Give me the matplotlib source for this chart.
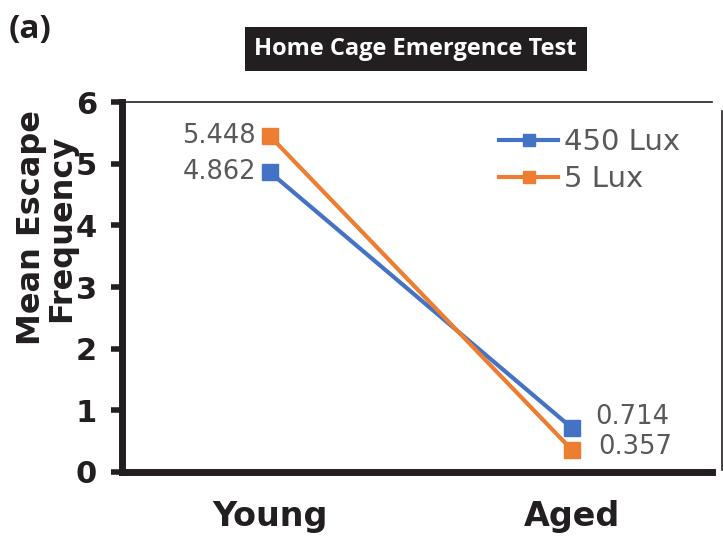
import matplotlib
matplotlib.use("Agg")
import matplotlib.pyplot as plt
from matplotlib.lines import Line2D

groups = ["Young", "Aged"]
series_names = ["450 Lux", "5 Lux"]
lux450 = [4.862, 0.714]
lux5 = [5.448, 0.357]
colors = ["#4472C4", "#ED7D31"]
yticks = [0, 1, 2, 3, 4, 5, 6]

fig = plt.figure(figsize=(7.23, 5.40), dpi=100)
ax = fig.add_axes([0.1687, 0.126, 0.816, 0.685])

xs = list(range(len(groups)))
ax.plot(xs, lux450, color=colors[0], lw=3, marker="s", ms=12, zorder=3, label=series_names[0])
ax.plot(xs, lux5, color=colors[1], lw=3, marker="s", ms=12, zorder=3, label=series_names[1])

ax.set_xlim(-0.49, 1.4635)
ax.set_ylim(0, 6)
ax.set_yticks(yticks)
ax.set_xticks(xs)
ax.set_xticklabels(groups, fontsize=24, fontweight="bold", color="#231f20")
ax.tick_params(axis="x", length=0, pad=20)
ax.tick_params(axis="y", length=8, width=4, color="#231f20", pad=10,
               labelsize=22, labelcolor="#231f20")
for t in ax.get_yticklabels():
    t.set_fontweight("bold")

for side in ("left", "bottom"):
    ax.spines[side].set_linewidth(5)
    ax.spines[side].set_color("#231f20")
ax.spines["top"].set_linewidth(1.2)
ax.spines["top"].set_color("#231f20")
ax.spines["right"].set_visible(False)

# y label sits over the tick labels, as in the original figure
fig.text(0.064, 0.578, "Mean Escape\nFrequency", fontsize=23, fontweight="bold",
         color="#231f20", rotation=90, ha="center", va="center", linespacing=0.95)

lab = dict(fontsize=18.5, color="#595959")
ax.annotate(f"{lux5[0]:.3f}", (xs[0], lux5[0]), xytext=(-10, 0), textcoords="offset points",
            ha="right", va="center", **lab)
ax.annotate(f"{lux450[0]:.3f}", (xs[0], lux450[0]), xytext=(-10, 0), textcoords="offset points",
            ha="right", va="center", **lab)
ax.annotate(f"{lux450[1]:.3f}", (xs[1], lux450[1]), xytext=(17, 8), textcoords="offset points",
            ha="left", va="center", **lab)
ax.annotate(f"{lux5[1]:.3f}", (xs[1], lux5[1]), xytext=(19, 2), textcoords="offset points",
            ha="left", va="center", **lab)

handles = [Line2D([0], [0], color=c, lw=3, marker="s", ms=9) for c in colors]
leg = ax.legend(handles, series_names, loc="upper right", bbox_to_anchor=(0.99, 1.0),
                frameon=False, fontsize=21, handlelength=2.0, handletextpad=0.2,
                labelspacing=0.3)
for t in leg.get_texts():
    t.set_color("#595959")

# stray frame edge at right of the panel
fig.add_artist(Line2D([0.9985, 0.9985], [0.13, 0.795], transform=fig.transFigure,
                      color="#231f20", lw=1.2))

fig.text(0.012, 0.945, "(a)", fontsize=24, fontweight="bold", color="#231f20",
         ha="left", va="center", family="Open Sans")
fig.text(0.575, 0.91, "Home Cage Emergence Test", fontsize=17, fontweight="bold",
         color="white", ha="center", va="center", family="Open Sans",
         bbox=dict(boxstyle="square,pad=0.42", fc="#231f20", ec="none"))

fig.savefig("out.png", dpi=100)
